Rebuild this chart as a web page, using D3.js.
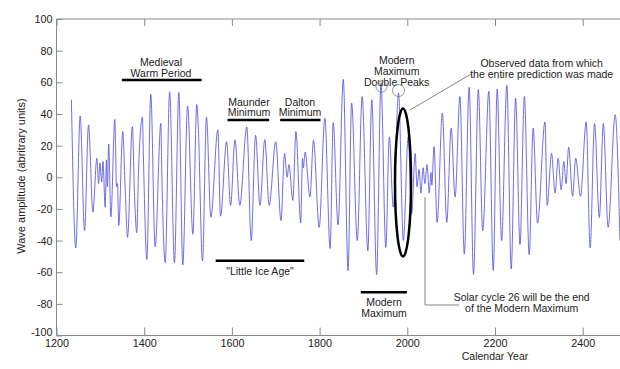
<!DOCTYPE html>
<html><head><meta charset="utf-8">
<script src="https://cdn.jsdelivr.net/npm/d3@7"></script>
<style>
body{margin:0;background:#fff;}
text{font-family:"Liberation Sans",Arial,Helvetica,sans-serif;}
</style></head>
<body><svg id="c" width="620" height="369"></svg>
<script>
// extrema of the wave (year, amplitude)
const years = [
1234,1244,1254,1264,1273,1283,1292,1296,1299,1303,
1306,1311,1314,1316,1319,1324,1333,1337,1339,1342,
1351,1357,1362,1373,1378,1383,1387,1396,1398,1406,
1415,1425,1438,1440,1448,1458,1469,1479,1488,1499,
1511,1520,1523,1533,1542,1552,1568,1574,1588,1597,
1607,1618,1634,1644,1654,1664,1675,1685,1700,1712,
1720,1726,1730,1739,1746,1757,1761,1763,1767,1778,
1786,1799,1812,1824,1831,1842,1854,1865,1873,1886,
1897,1910,1919,1930,1940,1951,1959,1968,1980,1991,
2002,2010,2018,2022,2027,2031,2036,2040,2045,2050,
2054,2056,2061,2068,2080,2090,2100,2109,2120,2130,
2141,2151,2162,2172,2186,2196,2205,2215,2227,2237,
2247,2257,2267,2278,2287,2297,2314,2319,2329,2337,
2344,2351,2357,2362,2368,2377,2384,2395,2408,2417,
2427,2438,2447,2458,2474,2485];
const amplitude = [
49,-44.7,38.8,-33.7,33,-22,12,-4,9,-3,
10,-19,11,-6,21,-25,36.6,-6,-4,-30.5,
29,-10,-38,32,-12,-35,3,38,15,-52,
52.5,-44,34,5,-54,54,-54,53.6,-55.5,45,
-36,46,34,-52.9,38,-25.3,30,-24.6,22.5,-17.8,
23.6,-17.8,31.8,-40,26.5,-17.8,23.8,-17.8,22.5,-27.4,
15,0,8,-14.6,28.9,-28.9,11.8,6,16,-12.5,
23.3,-31.6,37.4,-45,34.5,-30,61.8,-59,46.9,-40,
51,-46.6,49,-61.4,59.4,-44.4,25.5,-18.8,53.3,-40,
25.5,-23,15,-6,5,-10,6,-4,8,-10,
3,-5,19.3,-28.6,40.6,-28.6,31,-12.5,51,-48.6,
56.9,-61.4,55.4,-33.8,54.3,-58.9,55.8,-40,58,-58,
50,-42.5,51,-49,31,-29,35,-17.8,15,-10,
12,-8,10,-4,19,-12,12,-12,35,-44.6,
34,-25.5,34,-31.6,39.5,-40];
const xTicks = [1200,1400,1600,1800,2000,2200,2400];
const yTicks = [-100,-80,-60,-40,-20,0,20,40,60,80,100];
// annotated periods: label lines, start year, end year, level
const periodNames = [["Medieval","Warm Period"],["Maunder","Minimum"],["Dalton","Minimum"],["\"Little Ice Age\""],["Modern","Maximum"]];
const periodStart = [1349,1590,1710,1563,1894];
const periodEnd   = [1531,1685,1802,1765,1999];
const periodLevel = [61.5,36.2,36.2,-52.7,-72.7];

const svg = d3.select("#c");
const L=56.5, T=19, B=335.5;
const x = d3.scaleLinear().domain([1200,2500]).range([L, L+1300*0.4385]);
const y = d3.scaleLinear().domain([-100,100]).range([B,T]);
const frame="#8a8a8a", ink="#222";

// data line
const data = years.map((d,i)=>({yr:d,v:amplitude[i]}));
svg.append("path").datum(data)
  .attr("fill","none").attr("stroke","#5454e2").attr("stroke-width",0.85)
  .attr("d", d3.line().x(d=>x(d.yr)).y(d=>y(d.v)).curve(d3.curveMonotoneX));

// frame
svg.append("line").attr("x1",L).attr("x2",620).attr("y1",T).attr("y2",T).attr("stroke",frame);
svg.append("line").attr("x1",L).attr("x2",620).attr("y1",B).attr("y2",B).attr("stroke",frame);
svg.append("line").attr("x1",L).attr("x2",L).attr("y1",T).attr("y2",B).attr("stroke",frame);

// axes
const ax = svg.append("g").attr("transform",`translate(0,${B})`)
  .call(d3.axisBottom(x).tickValues(xTicks).tickSize(-8).tickPadding(4).tickFormat(d=>String(d)));
const axT = svg.append("g").attr("transform",`translate(0,${T})`)
  .call(d3.axisTop(x).tickValues(xTicks).tickSize(-7).tickFormat(""));
const ay = svg.append("g").attr("transform",`translate(${L},0)`)
  .call(d3.axisLeft(y).tickValues(yTicks).tickSize(-6).tickPadding(4).tickFormat(d=>String(d)));
[ax,axT,ay].forEach(g=>{
  g.select(".domain").remove();
  g.selectAll(".tick line").attr("stroke",frame);
  g.selectAll(".tick text").attr("fill",ink).attr("font-size",10.8).attr("font-family","Liberation Sans, Arial, sans-serif");
});
// lift the lowest y label slightly so it clears the first year label
ay.selectAll(".tick text").filter(d=>d===-100).attr("dy","0.02em");

svg.append("text").attr("x",495).attr("y",359.5).attr("text-anchor","middle")
  .attr("font-size",10.5).attr("fill",ink).text("Calendar Year");
svg.append("text").attr("transform","translate(25,176) rotate(-90)").attr("text-anchor","middle")
  .attr("font-size",11).attr("fill",ink).text("Wave amplitude (abritrary units)");

// period bars and labels
const labelPos = [[161,66],[249,105.5],[300,105.5],[260,275],[384,306]];
periodNames.forEach((lines,i)=>{
  svg.append("line").attr("x1",x(periodStart[i])).attr("x2",x(periodEnd[i]))
    .attr("y1",y(periodLevel[i])).attr("y2",y(periodLevel[i]))
    .attr("stroke","#000").attr("stroke-width",2.5);
  lines.forEach((t,j)=>{
    svg.append("text").attr("x",labelPos[i][0]).attr("y",labelPos[i][1]+j*10.8)
      .attr("text-anchor","middle").attr("font-size",10.5).attr("fill",ink).text(t);
  });
});

// Modern Maximum Double Peaks
["Modern","Maximum","Double Peaks"].forEach((t,j)=>{
  svg.append("text").attr("x",396.7).attr("y",64+j*11).attr("text-anchor","middle")
    .attr("font-size",10.5).attr("fill",ink).text(t);
});
svg.append("circle").attr("cx",381.5).attr("cy",86.5).attr("r",5.6).attr("fill","none").attr("stroke","#777").attr("stroke-width",0.8);
svg.append("circle").attr("cx",398.5).attr("cy",90.5).attr("r",6).attr("fill","none").attr("stroke","#777").attr("stroke-width",0.8);

// observed data ellipse
svg.append("ellipse").attr("cx",403).attr("cy",182.5).attr("rx",8).attr("ry",74)
  .attr("fill","none").attr("stroke","#000").attr("stroke-width",2.5);
svg.append("line").attr("x1",410).attr("y1",110).attr("x2",472).attr("y2",73.5)
  .attr("stroke","#666").attr("stroke-width",0.8);
["Observed data from which","the entire prediction was made"].forEach((t,j)=>{
  svg.append("text").attr("x",541.7).attr("y",67+j*11).attr("text-anchor","middle")
    .attr("font-size",10.5).attr("fill",ink).text(t);
});

// solar cycle 26 connector
svg.append("path").attr("d","M425,197 L425,305 L459,305").attr("fill","none")
  .attr("stroke","#777").attr("stroke-width",0.9);
["Solar cycle 26 will be the end","of the Modern Maximum"].forEach((t,j)=>{
  svg.append("text").attr("x",521.7).attr("y",300.5+j*11).attr("text-anchor","middle")
    .attr("font-size",10.5).attr("fill",ink).text(t);
});
</script></body></html>
